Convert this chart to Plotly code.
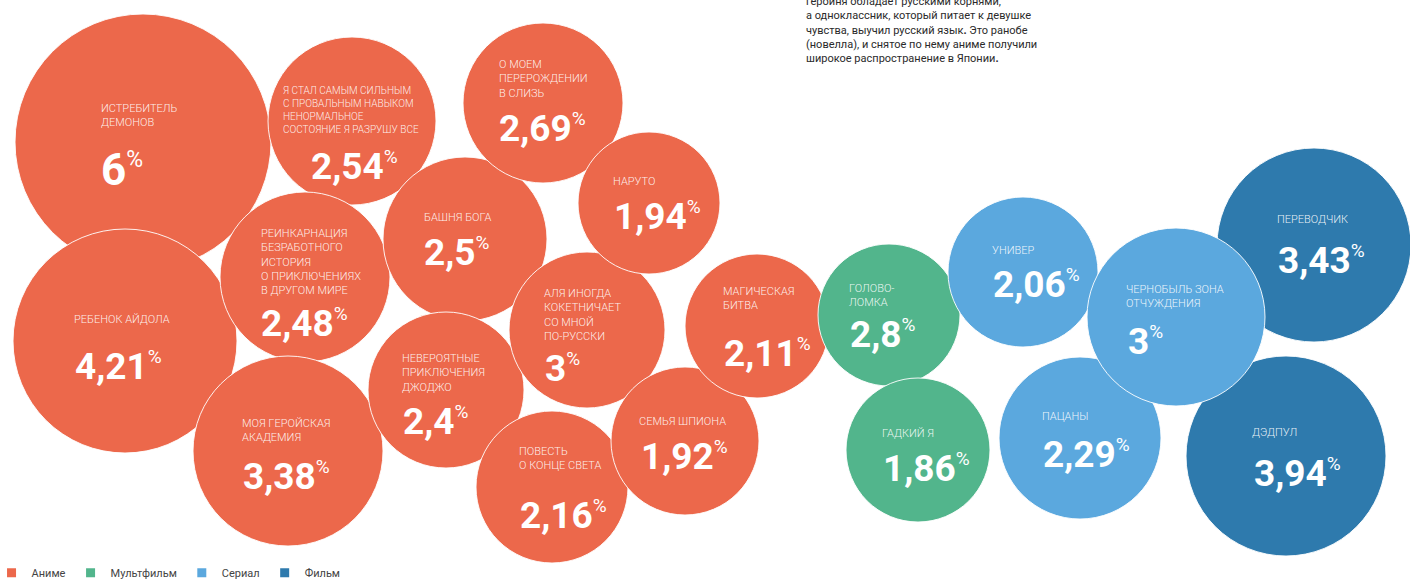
import plotly.graph_objects as go

# ---------------- data ----------------
titles = [
    "ИСТРЕБИТЕЛЬ<br>ДЕМОНОВ",
    "РЕБЕНОК АЙДОЛА",
    "Я СТАЛ САМЫМ СИЛЬНЫМ<br>С ПРОВАЛЬНЫМ НАВЫКОМ<br>НЕНОРМАЛЬНОЕ<br>СОСТОЯНИЕ Я РАЗРУШУ ВСЕ",
    "РЕИНКАРНАЦИЯ<br>БЕЗРАБОТНОГО<br>ИСТОРИЯ<br>О ПРИКЛЮЧЕНИЯХ<br>В ДРУГОМ МИРЕ",
    "МОЯ ГЕРОЙСКАЯ<br>АКАДЕМИЯ",
    "БАШНЯ БОГА",
    "О МОЕМ<br>ПЕРЕРОЖДЕНИИ<br>В СЛИЗЬ",
    "НЕВЕРОЯТНЫЕ<br>ПРИКЛЮЧЕНИЯ<br>ДЖОДЖО",
    "АЛЯ ИНОГДА<br>КОКЕТНИЧАЕТ<br>СО МНОЙ<br>ПО-РУССКИ",
    "НАРУТО",
    "ПОВЕСТЬ<br>О КОНЦЕ СВЕТА",
    "СЕМЬЯ ШПИОНА",
    "МАГИЧЕСКАЯ<br>БИТВА",
    "ГОЛОВО-<br>ЛОМКА",
    "ГАДКИЙ Я",
    "УНИВЕР",
    "ПЕРЕВОДЧИК",
    "ДЭДПУЛ",
    "ПАЦАНЫ",
    "ЧЕРНОБЫЛЬ ЗОНА<br>ОТЧУЖДЕНИЯ",
]
values = [6, 4.21, 2.54, 2.48, 3.38, 2.5, 2.69, 2.4, 3, 1.94, 2.16, 1.92, 2.11,
          2.8, 1.86, 2.06, 3.43, 3.94, 2.29, 3]
kinds = ["Аниме"] * 13 + ["Мультфильм"] * 2 + ["Сериал"] + ["Фильм"] * 2 + ["Сериал"] * 2
legend_order = ["Аниме", "Мультфильм", "Сериал", "Фильм"]

# ---------------- layout of the packed bubbles (pixel space) ----------------
cx = [143, 125, 352, 305, 288, 465, 543, 446, 587, 649, 552, 685, 757,
      889, 918, 1023, 1314, 1286, 1080, 1176]
cy = [142, 341, 121, 277, 451, 239, 103, 390, 330, 203, 487, 441, 326,
      315, 450, 272, 245, 456, 438, 317]
radius = [128, 112, 84, 85, 95, 82, 80, 78, 78, 71, 76, 74, 72,
          71, 72, 75, 97, 100, 81, 89]
label_x = [100, 73, 282, 260, 241, 423, 498, 401, 543, 612, 518, 638, 722,
           848, 881, 991, 1276, 1251, 1041, 1125]
label_y = [107, 318, 90, 232, 422, 216, 63, 357, 292, 180, 450, 420, 290,
           287, 432, 249, 218, 431, 415, 288]
value_x = [100, 74, 310, 260, 242, 423, 498, 402, 544, 613, 519, 640, 723,
           849, 882, 992, 1277, 1253, 1042, 1127]
value_y = [167, 363, 163, 320, 473, 249, 125, 418, 365, 213, 512, 453, 350,
           331, 465, 281, 257, 470, 451, 338]

note = ("героиня обладает русскими корнями,<br>"
        "а одноклассник, который питает к девушке<br>"
        "чувства, выучил русский язык<b>.</b> Это ранобе<br>"
        "(новелла), и снятое по нему аниме получили<br>"
        "широкое распространение в Японии<b>.</b>")

palette = {"Аниме": "#EC684B", "Мультфильм": "#52B58C",
           "Сериал": "#5BA8DE", "Фильм": "#2E7AAD"}

W, H = 1410, 582
FONT = "Roboto, 'Open Sans', sans-serif"
VALUE_DY = 3  # cap-centre vs. text-box-centre correction

fig = go.Figure()

fig.add_trace(go.Scatter(
    x=cx, y=cy, mode="markers",
    marker=dict(size=[2 * r for r in radius], sizemode="diameter", sizeref=1,
                color=[palette[k] for k in kinds], opacity=1,
                line=dict(color="rgba(255,255,255,0.9)", width=1)),
    text=[t.replace("<br>", " ") for t in titles],
    customdata=values,
    hovertemplate="%{text}: %{customdata}%<extra></extra>",
    showlegend=False,
))

for k in legend_order:
    fig.add_trace(go.Scatter(
        x=[None], y=[None], mode="markers", name=k,
        marker=dict(symbol="square", size=9, color=palette[k]),
        showlegend=True,
    ))

annotations = []
for i, (t, v) in enumerate(zip(titles, values)):
    fs_label = 10 if i == 2 else 11
    annotations.append(dict(
        x=label_x[i], y=label_y[i] - 6, xref="x", yref="y",
        text=t, showarrow=False, xanchor="left", yanchor="top", align="left",
        borderpad=0,
        font=dict(family=FONT, size=fs_label, weight=300,
                  color="rgba(255,255,255,0.9)"),
    ))
    big = 44 if i == 0 else 37
    num = f"{v:g}".replace(".", ",")
    annotations.append(dict(
        x=value_x[i], y=value_y[i] + VALUE_DY, xref="x", yref="y",
        text=f"<b>{num}</b><sup><span style='font-size:{round(big*0.52)}px'>%</span></sup>",
        showarrow=False, xanchor="left", yanchor="middle", borderpad=0,
        font=dict(family=FONT, size=big, color="white"),
    ))

annotations.append(dict(
    x=805 / W, y=1 + 6.5 / H, xref="paper", yref="paper",
    text=note, showarrow=False, xanchor="left", yanchor="top", align="left",
    borderpad=0, font=dict(family=FONT, size=11, color="#2a2a2a"),
))

fig.update_layout(
    width=W, height=H,
    margin=dict(l=0, r=0, t=0, b=0, pad=0, autoexpand=False),
    paper_bgcolor="white", plot_bgcolor="white",
    xaxis=dict(range=[0, W], visible=False, fixedrange=True),
    yaxis=dict(range=[H, 0], visible=False, fixedrange=True),
    annotations=annotations,
    showlegend=True,
    legend=dict(orientation="h", x=-0.006, y=-0.009, xanchor="left", yanchor="bottom",
                bgcolor="rgba(0,0,0,0)", itemwidth=30,
                font=dict(family=FONT, size=11, color="#444444")),
)

fig.write_html(
    "out.html",
    config={"displayModeBar": False},
    post_script="document.body.style.margin='0';document.body.style.overflow='hidden';",
)
